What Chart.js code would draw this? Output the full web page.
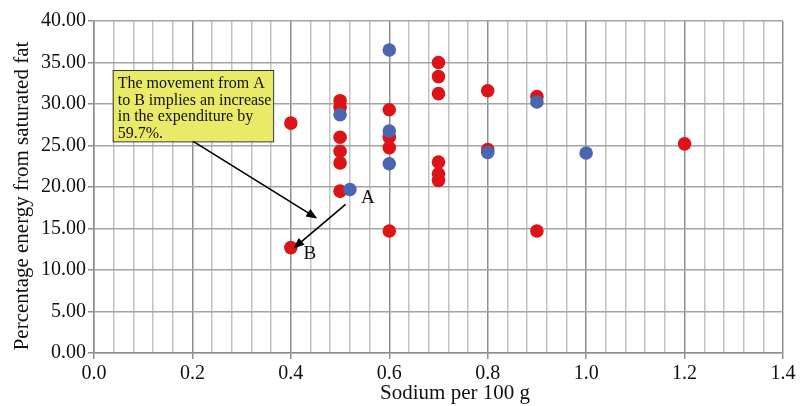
<!DOCTYPE html>
<html lang="en">
<head>
<meta charset="UTF-8">
<title>Sodium vs saturated fat</title>
<script src="https://cdn.jsdelivr.net/npm/chart.js@4.4.0/dist/chart.umd.min.js"></script>
<style>
body { margin: 0; background: #fff; }
canvas { display: block; }
</style>
</head>
<body>
<canvas id="chart" width="803" height="406"></canvas>
<script>
// red series (drawn first)
const redX = [0.4, 0.4, 0.5, 0.5, 0.5, 0.5, 0.5, 0.5, 0.6, 0.6, 0.6, 0.6, 0.7, 0.7, 0.7, 0.7, 0.7, 0.7, 0.8, 0.8, 0.9, 0.9, 1.2]
const redY = [27.7, 12.7, 30.4, 29.6, 26.0, 24.3, 22.9, 19.5, 29.3, 26.0, 24.75, 14.7, 35.0, 33.3, 31.25, 23.0, 21.6, 20.8, 31.6, 24.5, 30.9, 14.7, 25.2]
// blue series (on top)
const blueX = [0.5, 0.52, 0.6, 0.6, 0.6, 0.8, 0.9, 1.0]
const blueY = [28.7, 19.7, 36.5, 26.75, 22.8, 24.15, 30.25, 24.1]

const xTitle = 'Sodium per 100 g'
const yTitle = 'Percentage energy from saturated fat'
const noteLines = ['The movement from A', 'to B implies an increase', 'in the expenditure by', '59.7%.']

const isMajor = v => Math.abs(v / 0.2 - Math.round(v / 0.2)) < 1e-6

const serif = '"Liberation Serif", "DejaVu Serif", serif'

function arrow(ctx, x1, y1, x2, y2) {
  const a = Math.atan2(y2 - y1, x2 - x1)
  const len = 11, w = 4.5
  ctx.beginPath()
  ctx.moveTo(x1, y1)
  ctx.lineTo(x2 - Math.cos(a) * len * 0.8, y2 - Math.sin(a) * len * 0.8)
  ctx.stroke()
  ctx.beginPath()
  ctx.moveTo(x2, y2)
  ctx.lineTo(x2 - Math.cos(a) * len - Math.sin(a) * w, y2 - Math.sin(a) * len + Math.cos(a) * w)
  ctx.lineTo(x2 - Math.cos(a) * len + Math.sin(a) * w, y2 - Math.sin(a) * len - Math.cos(a) * w)
  ctx.closePath()
  ctx.fill()
}

// titles, note box, arrows and A/B labels
const extras = {
  id: 'extras',
  afterDraw(chart) {
    const ctx = chart.ctx
    const xs = chart.scales.x, ys = chart.scales.y
    const px = v => xs.getPixelForValue(v)
    const py = v => ys.getPixelForValue(v)
    ctx.save()

    ctx.fillStyle = '#111'
    ctx.font = '21px ' + serif
    ctx.textAlign = 'center'
    ctx.textBaseline = 'middle'
    ctx.fillText(xTitle, 455, 393)
    ctx.translate(22, 196)
    ctx.rotate(-Math.PI / 2)
    ctx.fillText(yTitle, 0, 0)
    ctx.setTransform(1, 0, 0, 1, 0, 0)

    // note box
    const bx1 = px(0.038), bx2 = px(0.364), by1 = py(34.1), by2 = py(25.5)
    ctx.fillStyle = '#e8ea68'
    ctx.fillRect(bx1, by1, bx2 - bx1, by2 - by1)
    ctx.strokeStyle = '#333'
    ctx.lineWidth = 1
    ctx.strokeRect(bx1 + 0.5, by1 + 0.5, bx2 - bx1, by2 - by1)
    ctx.fillStyle = '#111'
    ctx.font = '16px ' + serif
    ctx.textAlign = 'left'
    ctx.textBaseline = 'alphabetic'
    noteLines.forEach((t, i) => ctx.fillText(t, bx1 + 5, by1 + 18 + i * 16.7))

    // arrows
    ctx.strokeStyle = '#000'
    ctx.fillStyle = '#000'
    ctx.lineWidth = 1.6
    arrow(ctx, px(0.2016), py(25.5), px(0.4537), py(16.2))
    arrow(ctx, px(0.5113), py(17.9), px(0.4048), py(12.6))

    // point labels
    ctx.fillStyle = '#111'
    ctx.font = '19px ' + serif
    ctx.textAlign = 'center'
    ctx.textBaseline = 'middle'
    ctx.fillText('A', px(0.5565), py(18.65))
    ctx.fillText('B', px(0.4386), py(11.9))
    ctx.restore()
  }
}

new Chart(document.getElementById('chart'), {
  type: 'scatter',
  data: {
    datasets: [{
      data: redX.map((x, i) => ({ x: x, y: redY[i] })),
      backgroundColor: '#dc1418',
      borderWidth: 0,
      pointRadius: 6.8,
      order: 2
    }, {
      data: blueX.map((x, i) => ({ x: x, y: blueY[i] })),
      backgroundColor: '#4a66b0',
      borderWidth: 0,
      pointRadius: 6.8,
      order: 1
    }]
  },
  options: {
    responsive: false,
    animation: false,
    layout: { padding: { left: 0, right: 20, top: 21, bottom: 0 } },
    plugins: { legend: { display: false }, tooltip: { enabled: false } },
    scales: {
      x: {
        type: 'linear',
        min: 0,
        max: 1.4,
        afterFit: s => { s.height = 53 },
        ticks: {
          stepSize: 0.04,
          autoSkip: false,
          maxRotation: 0,
          padding: 3,
          color: '#111',
          font: { family: serif, size: 20 },
          callback: v => isMajor(v) ? v.toFixed(1) : ''
        },
        grid: {
          color: c => isMajor(c.tick.value) ? '#8e8e8e' : '#c2c2c2',
          lineWidth: 1.5,
          tickLength: 6,
          tickColor: c => isMajor(c.tick.value) ? '#8e8e8e' : 'rgba(0,0,0,0)'
        },
        border: { color: '#8e8e8e', width: 1.5 }
      },
      y: {
        min: 0,
        max: 40,
        afterFit: s => { s.width = 94 },
        ticks: {
          stepSize: 5,
          padding: 2,
          color: '#111',
          font: { family: serif, size: 20 },
          callback: v => v.toFixed(2)
        },
        grid: { color: '#a4a4a4', lineWidth: 1.5, tickLength: 6, tickColor: '#8e8e8e' },
        border: { color: '#8e8e8e', width: 1.5 }
      }
    }
  },
  plugins: [extras]
})
</script>
</body>
</html>
